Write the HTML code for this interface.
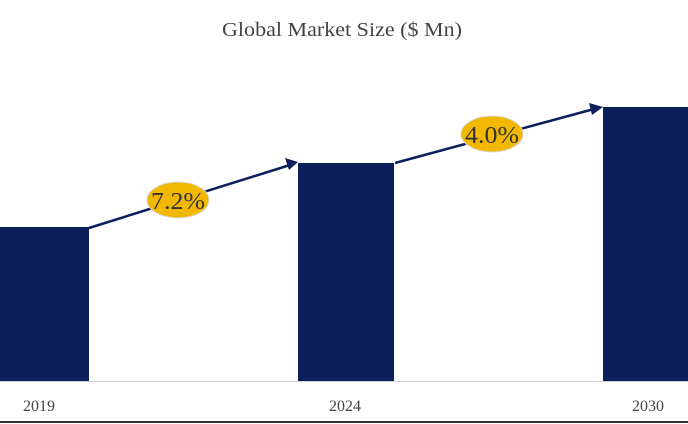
<!DOCTYPE html>
<html><head><style>body{margin:0;background:#fff}</style></head><body>
<svg width="688" height="424" xmlns="http://www.w3.org/2000/svg" style="display:block">
<text x="342" y="36" text-anchor="middle" font-family="Liberation Serif, serif" font-size="20" fill="#444" textLength="240" lengthAdjust="spacingAndGlyphs">Global Market Size ($ Mn)</text>
<rect x="0" y="227" width="89" height="154" fill="#0a1f5c"/>
<rect x="298" y="163" width="96" height="218" fill="#0a1f5c"/>
<rect x="603" y="107" width="85" height="274" fill="#0a1f5c"/>
<line x1="0" y1="381.5" x2="688" y2="381.5" stroke="#d0d0d0" stroke-width="1"/>
<line x1="0" y1="422" x2="688" y2="422" stroke="#333" stroke-width="2"/>
<line x1="89" y1="228" x2="290" y2="165" stroke="#0a1f5c" stroke-width="2.5"/>
<polygon points="298,162 285,158 289,170" fill="#0a1f5c"/>
<line x1="395" y1="163" x2="594" y2="109" stroke="#0a1f5c" stroke-width="2.5"/>
<polygon points="603,107 589,103 592,115" fill="#0a1f5c"/>
<ellipse cx="178" cy="200" rx="31" ry="18" fill="#f2b800" stroke="#d9d9d9" stroke-width="1"/>
<text x="178" y="209" text-anchor="middle" font-family="Liberation Serif, serif" font-size="24" fill="#333" textLength="54" lengthAdjust="spacingAndGlyphs">7.2%</text>
<ellipse cx="492" cy="134" rx="31" ry="18" fill="#f2b800" stroke="#d9d9d9" stroke-width="1"/>
<text x="492" y="143" text-anchor="middle" font-family="Liberation Serif, serif" font-size="24" fill="#333" textLength="54" lengthAdjust="spacingAndGlyphs">4.0%</text>
<text x="39" y="411" text-anchor="middle" font-family="Liberation Serif, serif" font-size="16" fill="#444">2019</text>
<text x="345" y="411" text-anchor="middle" font-family="Liberation Serif, serif" font-size="16" fill="#444">2024</text>
<text x="648" y="411" text-anchor="middle" font-family="Liberation Serif, serif" font-size="16" fill="#444">2030</text>
</svg>
</body></html>
